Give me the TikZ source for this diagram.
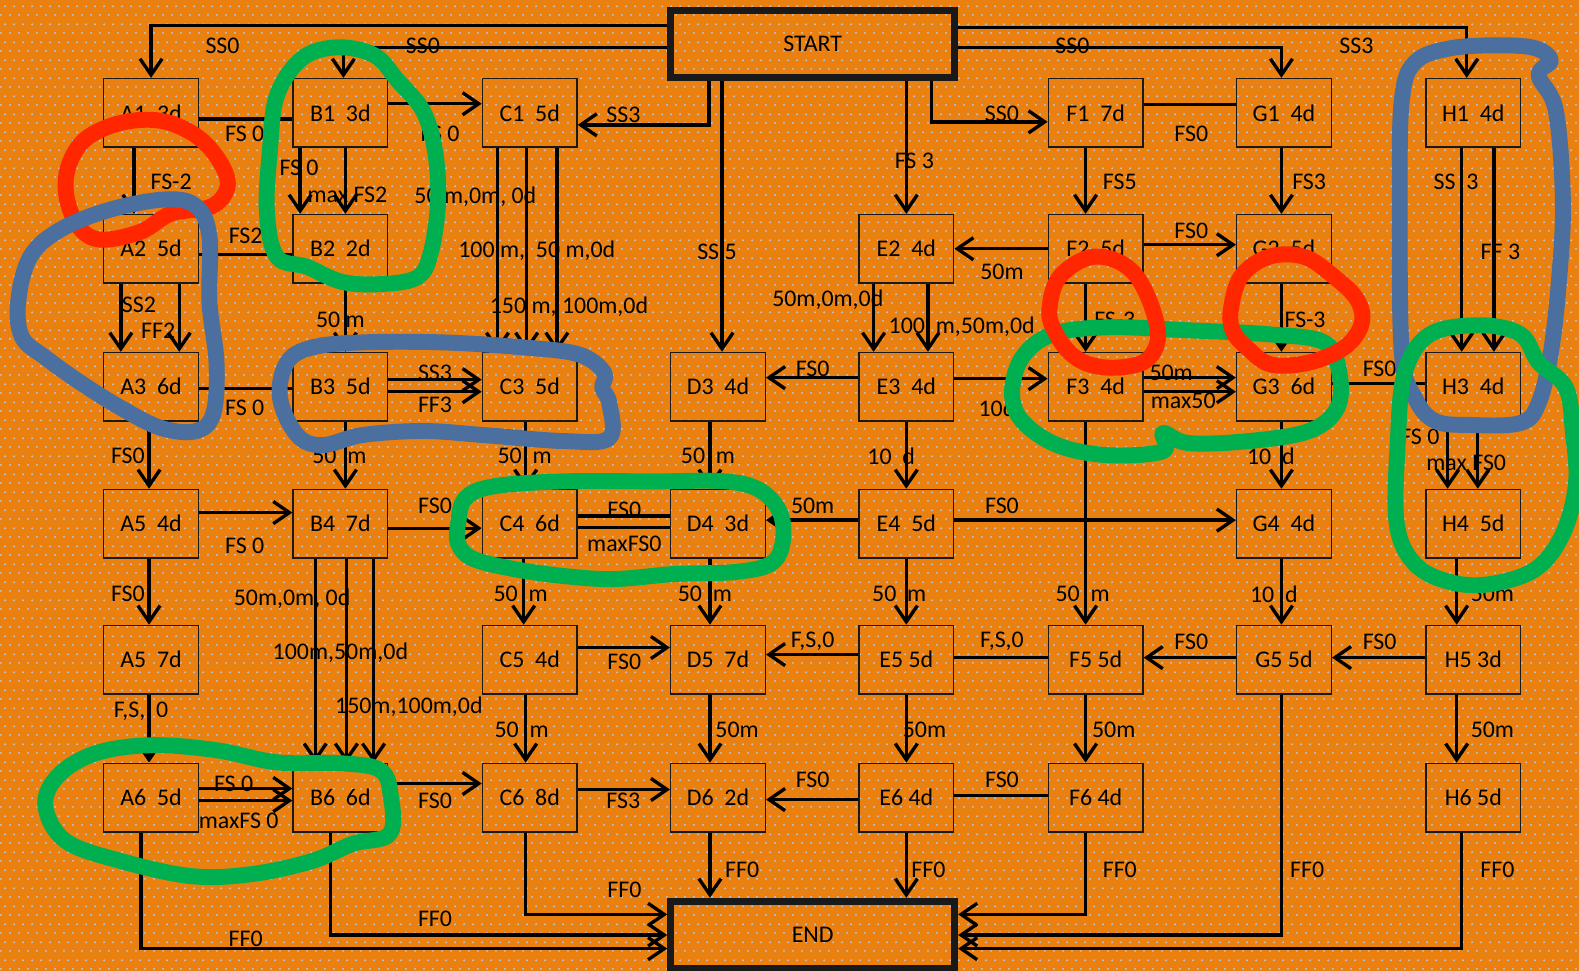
\documentclass[tikz,border=0pt]{standalone}
\usepackage{fontspec}
\setmainfont{Carlito}
\usetikzlibrary{
    arrows.meta,
    patterns
}
\definecolor{sheetorange}{HTML}{E98010}
\definecolor{dotblue}{HTML}{B3CDEA}
\definecolor{penred}{HTML}{FF2600}
\definecolor{pengreen}{HTML}{00B050}
\definecolor{penblue}{HTML}{4B6F9E}
\pgfdeclarepatternformonly{sheetdots}{\pgfqpoint{0pt}{0pt}}{\pgfqpoint{5.1pt}{10.2pt}}{\pgfqpoint{5.1pt}{10.2pt}}{%
    \pgfpathcircle{\pgfqpoint{1.27pt}{1.27pt}}{0.65pt}%
    \pgfpathcircle{\pgfqpoint{3.82pt}{6.37pt}}{0.65pt}%
    \pgfusepath{fill}}
\tikzset{
    task/.style={
        draw=black!90,
        line width=0.8pt,
        minimum width=1.88cm,
        minimum height=1.36cm,
        inner sep=0pt,
        font=\fontsize{13.5}{15}\selectfont
    },
    milestone/.style={
        task,
        line width=4pt,
        minimum width=5.64cm,
        minimum height=1.34cm
    },
    link/.style={
        line width=1.9pt,
        draw=black
    },
    arr/.style={
        link,
        -{Straight Barb[length=0.32cm, width=0.44cm]}
    },
    lbl/.style={
        font=\fontsize{13.5}{15}\selectfont,
        inner sep=0pt
    },
    pen/.style={
        line width=9pt,
        line join=round,
        line cap=round
    }
}

\begin{document}
\begin{tikzpicture}[x=0.02cm, y=-0.02cm]

    % Sheet background.
    \useasboundingbox (0,0) rectangle (1568,964);
    \fill[sheetorange] (0,0) rectangle (1568,964);
    \fill[pattern=sheetdots, pattern color=dotblue] (0,0) rectangle (1568,964);

    % -------------------------------------------------------------------------
    % Activities.
    % -------------------------------------------------------------------------
    \node[milestone] (startbox) at (807,43.5) {START};
    \node[milestone] (endbox) at (807,928.5) {END};

    \foreach \name/\x/\y/\txt in {
        a1/150/112/A1~~3d, b1/338/112/B1~~3d, c1/526/112/C1~~5d,
        f1/1088/112/F1~~7d, g1/1275/112/G1~~4d, h1/1463/112/H1~~4d,
        a2/150/247/A2~~5d, b2/338/247/B2~~2d, e2/900/247/E2~~4d,
        f2/1088/247/F2~~5d, g2/1275/247/G2~~5d,
        a3/150/384/A3~~6d, b3/338/384/B3~~5d, c3/526/384/C3~~5d,
        d3/713/384/D3~~4d, e3/900/384/E3~~4d, f3/1088/384/F3~~4d,
        g3/1275/384/G3~~6d, h3/1463/384/H3~~4d,
        a4/150/520/A5~~4d, b4/338/520/B4~~7d, c4/526/520/C4~~6d,
        d4/713/520/D4~~3d, e4/900/520/E4~~5d, g4/1275/520/G4~~4d,
        h4/1463/520/H4~~5d,
        a5/150/655/A5~~7d, c5/526/655/C5~~4d, d5/713/655/D5~~7d,
        e5/900/655/E5 5d, f5/1088/655/F5 5d, g5/1275/655/G5 5d,
        h5/1463/655/H5 3d,
        a6/150/792/A6~~5d, b6/338/792/B6~~6d, c6/526/792/C6~~8d,
        d6/713/792/D6~~2d, e6/900/792/E6 4d, f6/1088/792/F6 4d,
        h6/1463/792/H6 5d%
    }
        \node[task] (\name) at (\x,\y) {\txt};

    % -------------------------------------------------------------------------
    % From START.
    % -------------------------------------------------------------------------
    \draw[arr] ([yshift=0.37cm]startbox.west) -| (a1.north)
        node[lbl] at (221,46) {SS0};
    \draw[arr] ([yshift=-0.07cm]startbox.west) -| ([xshift=0.06cm]b1.north)
        node[lbl] at (420,46) {SS0};
    \draw[arr] ([xshift=-2.06cm]startbox.south) |- ([yshift=-0.24cm]c1.east)
        node[lbl] at (619,114) {SS3};
    \draw[arr] ([xshift=0.08cm]d3.north |- startbox.south) -- ([xshift=0.08cm]d3.north)
        node[lbl] at (712,250) {SS 5};
    \draw[arr] (e2.north |- startbox.south) -- (e2.north)
        node[lbl] at (908,160) {FS 3};
    \draw[arr] ([xshift=2.36cm]startbox.south) |- ([yshift=-0.18cm]f1.west)
        node[lbl] at (995,113) {SS0};
    \draw[arr] ([yshift=-0.07cm]startbox.east) -| ([xshift=-0.05cm]g1.north)
        node[lbl] at (1065,46) {SS0};
    \draw[arr] ([yshift=0.33cm]startbox.east) -| ([xshift=-0.13cm]h1.north)
        node[lbl] at (1347,46) {SS3};

    % -------------------------------------------------------------------------
    % Columns A and B.
    % -------------------------------------------------------------------------
    \draw[arr] ([xshift=-0.34cm]a1.south) -- ([xshift=-0.34cm]a2.north)
        node[lbl] at (170,181) {FS-2};
    \draw[arr] ([xshift=-0.6cm]a2.south) -- ([xshift=-0.6cm]a3.north)
        node[lbl] at (138,303) {SS2};
    \draw[arr] ([xshift=0.56cm]a2.south) -- ([xshift=0.56cm]a3.north)
        node[lbl] at (157,328) {FF2};
    \draw[arr] ([xshift=-0.04cm]a3.south) -- ([xshift=-0.04cm]a4.north)
        node[lbl] at (127,453) {FS0};
    \draw[arr] ([xshift=-0.04cm]a4.south) -- ([xshift=-0.04cm]a5.north)
        node[lbl] at (127,590) {FS0};
    \draw[arr] ([xshift=-0.04cm]a5.south) -- ([xshift=-0.04cm]a6.north)
        node[lbl] at (140,706) {F,S,\ \ 0};

    \draw[link] ([yshift=-0.12cm]a1.east) -- ([yshift=-0.12cm]b1.west)
        node[lbl] at (243,133) {FS 0};
    \draw[link] ([yshift=-0.12cm]a2.east) -- ([yshift=-0.12cm]b2.west)
        node[lbl] at (244,234) {FS2};
    \draw[link] ([yshift=-0.04cm]a3.east) -- ([yshift=-0.04cm]b3.west)
        node[lbl] at (243,405) {FS 0};
    \draw[arr] ([yshift=0.22cm]a4.east) -- ([yshift=0.22cm]b4.west)
        node[lbl] at (243,542) {FS 0};
    \draw[arr] ([yshift=0.18cm]a6.east) -- ([yshift=0.18cm]b6.west)
        node[lbl] at (232,778) {FS 0};
    \draw[arr] ([yshift=-0.06cm]a6.east) -- ([yshift=-0.06cm]b6.west)
        node[lbl] at (237,815) {maxFS 0};

    \draw[arr] ([xshift=-0.8cm]b1.south) -- ([xshift=-0.8cm]b2.north)
        node[lbl] at (297,167) {FS 0};
    \draw[arr] ([xshift=0.1cm]b1.south) -- ([xshift=0.1cm]b2.north)
        node[lbl] at (345,193) {max FS2};
    \draw[arr] ([yshift=0.18cm]b1.east) -- ([yshift=0.18cm]c1.west)
        node[lbl] at (437,133) {FS 0};
    \draw[arr] ([xshift=0.1cm]b2.south) -- ([xshift=0.1cm]b3.north)
        node[lbl] at (338,318) {50 m};
    \draw[arr] ([yshift=0.14cm]b3.east) -- ([yshift=0.14cm]c3.west)
        node[lbl] at (432,370) {SS3};
    \draw[arr] ([yshift=-0.1cm]b3.east) -- ([yshift=-0.1cm]c3.west)
        node[lbl] at (432,402) {FF3};
    \draw[arr] ([xshift=0.1cm]b3.south) -- ([xshift=0.1cm]b4.north)
        node[lbl] at (337,453) {50\ \ m};
    \draw[arr] ([yshift=-0.09cm]b4.east) -- ([yshift=-0.09cm]c4.west)
        node[lbl] at (432,502) {FS0};
    \draw[arr] ([xshift=-0.5cm]b4.south) -- ([xshift=-0.5cm]b6.north)
        node[lbl] at (290,595) {50m,0m,~0d};
    \draw[arr] ([xshift=0.12cm]b4.south) -- ([xshift=0.12cm]b6.north)
        node[lbl] at (338,648) {100m,50m,0d};
    \draw[arr] ([xshift=0.66cm]b4.south) -- ([xshift=0.66cm]b6.north)
        node[lbl] at (406,702) {150m,100m,0d};
    \draw[arr] ([yshift=0.28cm]b6.east) -- ([yshift=0.28cm]c6.west)
        node[lbl] at (432,795) {FS0};

    % -------------------------------------------------------------------------
    % Columns C and D.
    % -------------------------------------------------------------------------
    \draw[arr] ([xshift=-0.64cm]c1.south) -- ([xshift=-0.64cm]c3.north)
        node[lbl] at (472,195) {50 m,0m,~0d};
    \draw[arr] ([xshift=-0.06cm]c1.south) -- ([xshift=-0.06cm]c3.north)
        node[lbl] at (533,249) {100 m,~~50 m,0d};
    \draw[arr] ([xshift=0.54cm]c1.south) -- ([xshift=0.54cm]c3.north)
        node[lbl] at (565,305) {150 m,~100m,0d};
    \draw[arr] ([xshift=-0.08cm]c3.south) -- ([xshift=-0.08cm]c4.north)
        node[lbl] at (521,453) {50\ \ m};
    \draw[link] ([yshift=0.15cm]c4.east) -- ([yshift=0.15cm]d4.west)
        node[lbl] at (620,506) {FS0};
    \draw[link] ([yshift=-0.07cm]c4.east) -- ([yshift=-0.07cm]d4.west)
        node[lbl] at (620,540) {maxFS0};
    \draw[arr] ([xshift=-0.12cm]c4.south) -- ([xshift=-0.12cm]c5.north)
        node[lbl] at (517,590) {50\ \ m};
    \draw[arr] ([yshift=0.24cm]c5.east) -- ([yshift=0.24cm]d5.west)
        node[lbl] at (620,657) {FS0};
    \draw[arr] ([xshift=-0.08cm]c5.south) -- ([xshift=-0.08cm]c6.north)
        node[lbl] at (518,725) {50\ \ m};
    \draw[arr] ([yshift=0.16cm]c6.east) -- ([yshift=0.16cm]d6.west)
        node[lbl] at (619,795) {FS3};

    \draw[arr] ([xshift=-0.16cm]d3.south) -- ([xshift=-0.16cm]d4.north)
        node[lbl] at (703,453) {50\ \ m};
    \draw[arr] ([xshift=-0.16cm]d4.south) -- ([xshift=-0.16cm]d5.north)
        node[lbl] at (700,590) {50\ \ m};
    \draw[arr] ([xshift=-0.16cm]d5.south) -- ([xshift=-0.16cm]d6.north)
        node[lbl] at (732,725) {50m};

    % -------------------------------------------------------------------------
    % Columns E and F.
    % -------------------------------------------------------------------------
    \draw[arr] ([xshift=-0.65cm]e2.south) -- ([xshift=-0.65cm]e3.north)
        node[lbl] at (822,298) {50m,0m,0d};
    \draw[arr] ([xshift=0.43cm]e2.south) -- ([xshift=0.43cm]e3.north)
        node[lbl] at (955,324) {100~~m,50m,0d};
    \draw[arr] ([yshift=0.18cm]e3.west) -- ([yshift=0.18cm]d3.east)
        node[lbl] at (807,366) {FS0};
    \draw[arr] ([yshift=0.16cm]e3.east) -- ([yshift=0.16cm]f3.west)
        node[lbl] at (990,405) {10d};
    \draw[arr] (e3.south) -- (e4.north)
        node[lbl] at (885,453) {10\ \ d};
    \draw[arr] ([yshift=0.07cm]e4.west) -- ([yshift=0.07cm]d4.east)
        node[lbl] at (807,502) {50m};
    \draw[arr] ([yshift=0.07cm]e4.east) -- ([yshift=0.07cm]g4.west)
        node[lbl] at (995,502) {FS0};
    \draw[arr] (e4.south) -- (e5.north)
        node[lbl] at (893,590) {50\ \ m};
    \draw[arr] ([yshift=0.1cm]e5.west) -- ([yshift=0.1cm]d5.east)
        node[lbl] at (807,637) {F,S,0};
    \draw[arr] (e5.south) -- (e6.north)
        node[lbl] at (918,725) {50m};
    \draw[arr] ([yshift=-0.04cm]e6.west) -- ([yshift=-0.04cm]d6.east)
        node[lbl] at (807,774) {FS0};

    \draw[arr] ([xshift=-0.2cm]f1.south) -- ([xshift=-0.2cm]f2.north)
        node[lbl] at (1112,181) {FS5};
    \draw[link] ([yshift=0.16cm]f1.east) -- ([yshift=0.16cm]g1.west)
        node[lbl] at (1183,133) {FS0};
    \draw[arr] (f2.west) -- (e2.east)
        node[lbl] at (995,270) {50m};
    \draw[arr] ([yshift=0.08cm]f2.east) -- ([yshift=0.08cm]g2.west)
        node[lbl] at (1183,229) {FS0};
    \draw[arr] ([xshift=-0.2cm]f2.south) -- ([xshift=-0.2cm]f3.north)
        node[lbl] at (1107,318) {FS-3};
    \draw[arr] ([yshift=0.18cm]f3.east) -- ([yshift=0.18cm]g3.west)
        node[lbl] at (1163,370) {50m};
    \draw[arr] ([yshift=-0.1cm]f3.east) -- ([yshift=-0.1cm]g3.west)
        node[lbl] at (1175,398) {max50};
    \draw[arr] ([xshift=-0.2cm]f3.south) -- ([xshift=-0.2cm]f5.north)
        node[lbl] at (1075,590) {50\ \ m};
    \draw[link] ([yshift=0.04cm]f5.west) -- ([yshift=0.04cm]e5.east)
        node[lbl] at (995,637) {F,S,0};
    \draw[arr] ([xshift=-0.2cm]f5.south) -- ([xshift=-0.2cm]f6.north)
        node[lbl] at (1106,725) {50m};
    \draw[link] ([yshift=0.04cm]f6.west) -- ([yshift=0.04cm]e6.east)
        node[lbl] at (995,774) {FS0};

    % -------------------------------------------------------------------------
    % Columns G and H.
    % -------------------------------------------------------------------------
    \draw[arr] ([xshift=-0.05cm]g1.south) -- ([xshift=-0.05cm]g2.north)
        node[lbl] at (1300,181) {FS3};
    \draw[arr] ([xshift=-0.05cm]g2.south) -- ([xshift=-0.05cm]g3.north)
        node[lbl] at (1296,318) {FS-3};
    \draw[link] ([yshift=0.06cm]g3.east) -- ([yshift=0.06cm]h3.west)
        node[lbl] at (1370,366) {FS0};
    \draw[arr] ([xshift=-0.05cm]g3.south) -- ([xshift=-0.05cm]g4.north)
        node[lbl] at (1262,453) {10\ \ d};
    \draw[arr] ([xshift=-0.05cm]g4.south) -- ([xshift=-0.05cm]g5.north)
        node[lbl] at (1265,590) {10\ \ d};
    \draw[arr] ([yshift=0.04cm]g5.west) -- ([yshift=0.04cm]f5.east)
        node[lbl] at (1183,637) {FS0};

    \draw[arr] ([xshift=-0.23cm]h1.south) -- ([xshift=-0.23cm]h3.north)
        node[lbl] at (1446,181) {SS\ \ 3};
    \draw[arr] ([xshift=0.41cm]h1.south) -- ([xshift=0.41cm]h3.north)
        node[lbl] at (1490,250) {FF 3};
    \draw[arr] ([xshift=-0.51cm]h3.south) -- ([xshift=-0.51cm]h4.north)
        node[lbl] at (1410,434) {FS 0};
    \draw[arr] ([xshift=0.09cm]h3.south) -- ([xshift=0.09cm]h4.north)
        node[lbl] at (1456,460) {max FS0};
    \draw[arr] ([xshift=-0.33cm]h4.south) -- ([xshift=-0.33cm]h5.north)
        node[lbl] at (1482,590) {50m};
    \draw[arr] ([yshift=0.04cm]h5.west) -- ([yshift=0.04cm]g5.east)
        node[lbl] at (1370,637) {FS0};
    \draw[arr] ([xshift=-0.33cm]h5.south) -- ([xshift=-0.33cm]h6.north)
        node[lbl] at (1482,725) {50m};

    % -------------------------------------------------------------------------
    % Into END.
    % -------------------------------------------------------------------------
    \draw[arr] ([xshift=-0.2cm]a6.south) |- ([yshift=-0.27cm]endbox.west)
        node[lbl] at (244,932) {FF0};
    \draw[arr] ([xshift=-0.2cm]b6.south) |- (endbox.west)
        node[lbl] at (432,912) {FF0};
    \draw[arr] ([xshift=-0.08cm]c6.south) |- ([yshift=0.41cm]endbox.west)
        node[lbl] at (620,884) {FF0};
    \draw[arr] ([xshift=-0.16cm]d6.south) -- ([xshift=-0.16cm]d6.south |- endbox.north)
        node[lbl] at (737,864) {FF0};
    \draw[arr] (e6.south) -- (e6.south |- endbox.north)
        node[lbl] at (922,864) {FF0};
    \draw[arr] ([xshift=-0.2cm]f6.south) |- ([yshift=0.41cm]endbox.east)
        node[lbl] at (1112,864) {FF0};
    \draw[arr] ([xshift=-0.05cm]g5.south) |- (endbox.east)
        node[lbl] at (1298,864) {FF0};
    \draw[arr] ([xshift=-0.23cm]h6.south) |- ([yshift=-0.27cm]endbox.east)
        node[lbl] at (1487,864) {FF0};

    % -------------------------------------------------------------------------
    % Hand-drawn markings.
    % -------------------------------------------------------------------------
    \draw[pen, penred] plot[smooth cycle, tension=0.6] coordinates {
        (68,165) (85,138) (120,122) (160,120) (195,135) (218,160) (226,185)
        (210,205) (170,212) (140,230) (100,238) (78,225) (66,195)};
    \draw[pen, penblue] plot[smooth cycle, tension=0.6] coordinates {
        (18,300) (30,255) (60,228) (110,208) (165,198) (195,205) (208,235)
        (208,300) (215,360) (212,410) (195,428) (160,425) (120,405) (80,380)
        (45,355) (22,335)};
    \draw[pen, penblue] plot[smooth cycle, tension=0.6] coordinates {
        (278,395) (285,360) (310,345) (360,340) (440,340) (520,345) (575,352)
        (600,370) (598,385) (605,400) (605,435) (560,438) (480,432) (420,428)
        (360,432) (320,442) (295,432)};
    \draw[pen, penblue] plot[smooth cycle, tension=0.6] coordinates {
        (1392,350) (1390,200) (1392,100) (1405,62) (1440,48) (1490,45)
        (1525,48) (1540,60) (1528,75) (1545,110) (1552,200) (1548,280)
        (1540,350) (1528,400) (1510,420) (1460,422) (1425,418) (1405,395)};
    \draw[pen, pengreen] plot[smooth cycle, tension=0.6] coordinates {
        (268,150) (275,95) (300,58) (335,47) (372,55) (395,80) (420,110)
        (432,150) (435,200) (428,250) (415,275) (380,282) (340,280) (305,265)
        (275,255) (265,210)};
    \draw[pen, pengreen] plot[smooth cycle, tension=0.6] coordinates {
        (455,520) (462,495) (490,483) (560,478) (650,478) (720,478) (755,487)
        (775,510) (777,540) (765,560) (730,568) (670,570) (610,575) (560,572)
        (510,565) (470,555) (455,540)};
    \draw[pen, pengreen] plot[smooth cycle, tension=0.6] coordinates {
        (1005,390) (1015,355) (1045,332) (1100,325) (1180,328) (1260,332)
        (1315,340) (1330,370) (1328,405) (1300,428) (1240,438) (1180,440)
        (1155,430) (1155,448) (1100,452) (1050,442) (1015,418)};
    \draw[pen, pengreen] plot[smooth cycle, tension=0.6] coordinates {
        (1388,440) (1395,370) (1420,332) (1470,323) (1510,332) (1528,360)
        (1555,385) (1562,430) (1565,480) (1552,530) (1525,565) (1480,580)
        (1440,578) (1405,560) (1387,520)};
    \draw[pen, pengreen] plot[smooth cycle, tension=0.6] coordinates {
        (45,800) (58,770) (95,748) (150,740) (215,745) (275,757) (340,758)
        (378,765) (388,790) (387,828) (350,838) (310,855) (250,868) (190,870)
        (120,855) (65,835)};
    \draw[pen, penred] plot[smooth cycle, tension=0.6] coordinates {
        (1042,310) (1050,278) (1075,258) (1100,256) (1125,270) (1142,300)
        (1150,335) (1138,358) (1110,365) (1082,362) (1062,350) (1048,330)};
    \draw[pen, penred] plot[smooth cycle, tension=0.6] coordinates {
        (1222,310) (1232,275) (1260,255) (1295,255) (1325,275) (1348,298)
        (1352,322) (1335,345) (1300,360) (1262,362) (1238,345) (1225,330)};

\end{tikzpicture}
\end{document}
